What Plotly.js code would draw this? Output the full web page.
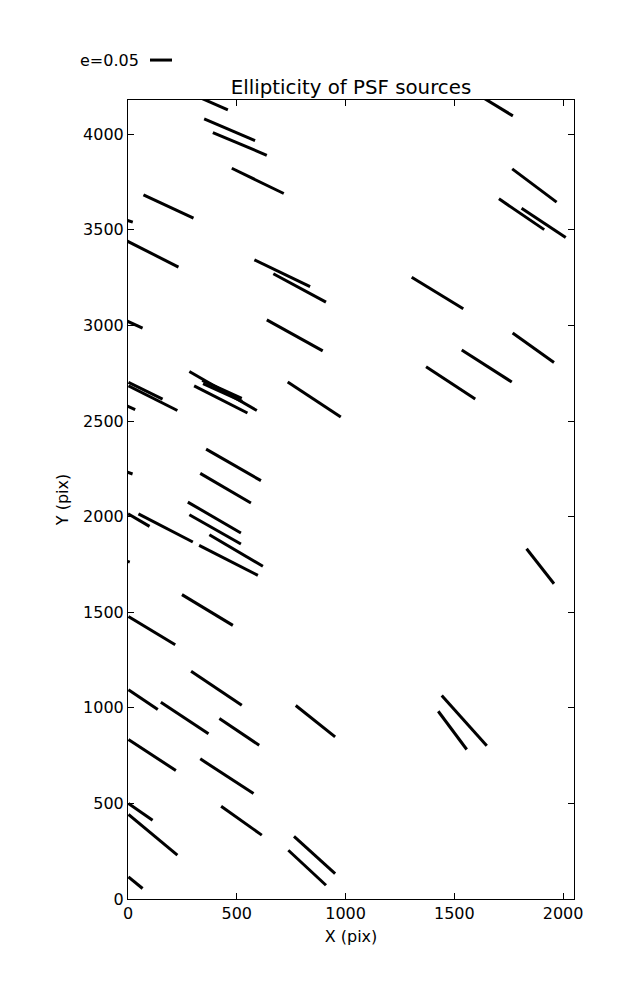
<!DOCTYPE html>
<html>
<head>
<meta charset="utf-8">
<script src="https://cdn.plot.ly/plotly-3.0.1.min.js"></script>
<style>html,body{margin:0;padding:0;background:#fff;}#chart{width:637px;height:1000px;}</style>
</head>
<body>
<div id="chart"></div>
<script>
// Whisker segments (start and end points, in pixel-coordinate data units X/Y)
var x0 = [228, 350, 390, 477, 71, -40, -5, 581, 668, 1573, 1766, 1705, 1809, 1304,
          -30, 638, 2, 2, -20, 282, 341, 345, 304, 734, -40, 359, 332, 275, 282, 48, 0,
          374, 327, -50, 248, 2, 1832, 290, 2, 151, 771, 420, 2, 332, 2, 2, 428, 763, 737,
          2, 1442, 1426, 1768, 1534, 1370];
var y0 = [4243, 4080, 4008, 3822, 3683, 3562, 3442, 3343, 3270, 4232, 3819, 3662, 3613, 3252,
          3036, 3029, 2702, 2684, 2587, 2759, 2713, 2695, 2684, 2704, 2247, 2353, 2226, 2076, 2010, 2014, 2015,
          1905, 1850, 1785, 1592, 1478, 1832, 1191, 1095, 1029, 1012, 944, 834, 733, 499, 442, 485, 328, 255,
          116, 1065, 982, 2960, 2871, 2784];
var x1 = [459, 584, 638, 716, 301, 22, 232, 837, 910, 1769, 1970, 1913, 2012, 1541,
          67, 895, 159, 227, 33, 592, 523, 525, 549, 978, 21, 611, 565, 519, 519, 298, 99,
          620, 597, 8, 482, 217, 1958, 523, 137, 370, 952, 603, 220, 577, 113, 227, 615, 952, 910,
          67, 1649, 1557, 1958, 1764, 1596];
var y1 = [4127, 3967, 3890, 3690, 3561, 3540, 3305, 3203, 3122, 4096, 3645, 3501, 3460, 3087,
          2986, 2867, 2615, 2555, 2559, 2555, 2619, 2603, 2542, 2521, 2223, 2188, 2071, 1914, 1857, 1867, 1949,
          1740, 1693, 1762, 1431, 1330, 1649, 1013, 991, 864, 848, 804, 672, 552, 412, 229, 334, 133, 72,
          55, 802, 782, 2806, 2704, 2615];
var xTicks = [0, 500, 1000, 1500, 2000];
var yTicks = [0, 500, 1000, 1500, 2000, 2500, 3000, 3500, 4000];
var legendLabel = "e=0.05";

var xs = [], ys = [];
for (var i = 0; i < x0.length; i++) {
  xs.push(x0[i], x1[i], null);
  ys.push(y0[i], y1[i], null);
}

var font = {family: "DejaVu Sans, sans-serif", size: 16, color: "#000"};
var trace = {
  x: xs, y: ys, mode: "lines", type: "scatter",
  line: {color: "#000", width: 3},
  hoverinfo: "skip", showlegend: false, connectgaps: false
};

var axisCommon = {
  showgrid: false, zeroline: false, showline: true, linecolor: "#000", linewidth: 1,
  mirror: "allticks", ticks: "inside", ticklen: 6, tickwidth: 1, tickcolor: "#000",
  tickfont: font, automargin: false
};

var layout = {
  width: 637, height: 1000,
  margin: {l: 128, r: 63, t: 100, b: 101},
  paper_bgcolor: "#fff", plot_bgcolor: "#fff",
  font: font,
  title: {text: "Ellipticity of PSF sources", font: {family: "DejaVu Sans, sans-serif", size: 19.8, color: "#000"},
          x: 0.5, xref: "paper", y: 0.913, yref: "container", yanchor: "middle"},
  xaxis: Object.assign({}, axisCommon, {
    range: [0, 2050], tickvals: xTicks, ticktext: xTicks.map(String),
    title: {text: "X (pix)", font: font, standoff: 8}
  }),
  yaxis: Object.assign({}, axisCommon, {
    range: [0, 4179], tickvals: yTicks, ticktext: yTicks.map(String),
    title: {text: "Y (pix)", font: font, standoff: 10}
  }),
  annotations: [{
    text: legendLabel, xref: "paper", yref: "paper", x: 0.029, y: 1.05,
    xanchor: "right", yanchor: "middle", showarrow: false, font: font
  }],
  shapes: [{
    type: "line", xref: "paper", yref: "paper", x0: 0.0493, x1: 0.0987, y0: 1.05, y1: 1.05,
    line: {color: "#000", width: 3}
  }]
};

Plotly.newPlot("chart", [trace], layout, {displayModeBar: false, staticPlot: true});
</script>
</body>
</html>
